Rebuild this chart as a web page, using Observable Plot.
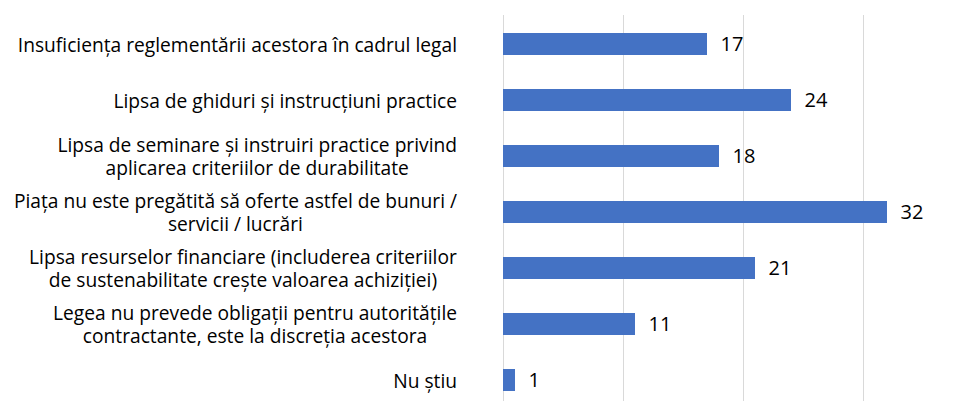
<!DOCTYPE html>
<html><head><meta charset="utf-8">
<script src="https://cdn.jsdelivr.net/npm/d3@7"></script>
<script src="https://cdn.jsdelivr.net/npm/@observablehq/plot@0.6"></script>
<style>body{margin:0;background:#fff;}</style>
</head><body><div id="chart"></div>
<script>
const categories = [
  "Insuficiența reglementării acestora în cadrul legal",
  "Lipsa de ghiduri și instrucțiuni practice",
  "Lipsa de seminare și instruiri practice privind\naplicarea criteriilor de durabilitate",
  "Piața nu este pregătită să oferte astfel de bunuri /\nservicii / lucrări",
  "Lipsa resurselor financiare (includerea criteriilor\nde sustenabilitate crește valoarea achiziției)",
  "Legea nu prevede obligații pentru autoritățile\ncontractante, este la discreția acestora",
  "Nu știu"
];
const values = [17, 24, 18, 32, 21, 11, 1];
const gridTicks = [0, 10, 20, 30];

const data = categories.map((c, i) => ({cat: c, value: values[i]}));

const chart = Plot.plot({
  width: 971, height: 401,
  marginTop: 15, marginBottom: 0, marginLeft: 503, marginRight: 0,
  style: {fontFamily: "'Open Sans', sans-serif", background: "#fff", color: "#000"},
  x: {domain: [0, 39], range: [503, 971], axis: null},
  y: {domain: categories, range: [15, 408], paddingInner: 0.61, paddingOuter: 0.305, axis: null},
  marks: [
    Plot.ruleX(gridTicks, {x: d => d, stroke: "#d9d9d9", strokeWidth: 1, strokeOpacity: 1}),
    Plot.barX(data, {x: "value", y: "cat", fill: "#4472c4"}),
    Plot.text(data, {x: "value", y: "cat", text: d => String(d.value), textAnchor: "start", dx: 13, fontSize: 20, fill: "#000"}),
    Plot.text(data, {y: "cat", text: "cat", frameAnchor: "left", textAnchor: "middle", lineAnchor: "middle", lineHeight: 1.2, fontSize: 19.2, fill: "#000"})
  ]
});
document.getElementById("chart").appendChild(chart);

// right-align each wrapped label block (lines stay centred within the block)
const groups = chart.querySelectorAll('g[aria-label="text"]');
const labelGroup = groups[groups.length - 1];
const svgRect = chart.getBoundingClientRect();
labelGroup.querySelectorAll("text").forEach(el => {
  const r = el.getBoundingClientRect();
  const shift = 457 - (r.right - svgRect.left);
  el.setAttribute("transform", (el.getAttribute("transform") || "") + ` translate(${shift},0)`);
});
</script></body></html>
